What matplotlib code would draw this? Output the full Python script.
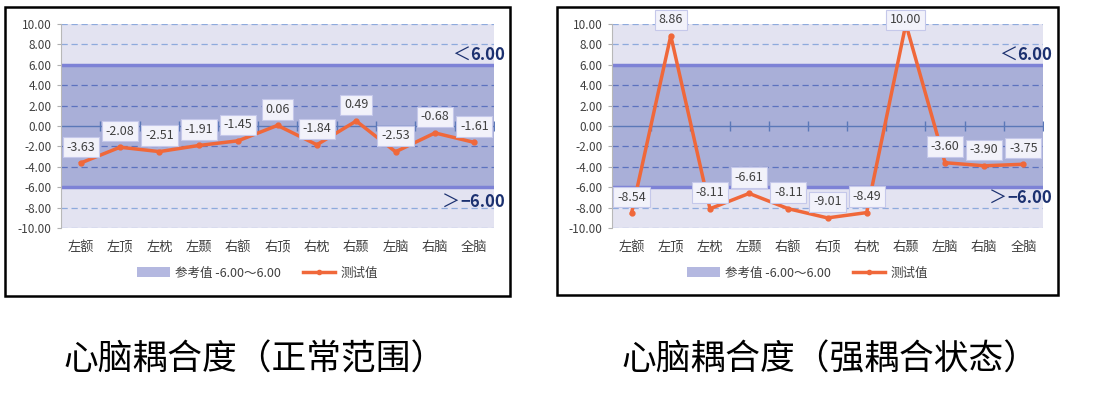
import matplotlib
matplotlib.use("Agg")
import matplotlib.pyplot as plt
from matplotlib.patches import Rectangle, Patch
from matplotlib.lines import Line2D

plt.rcParams['font.family'] = ['Noto Sans CJK SC', 'DejaVu Sans']

# data
regions = ['左额', '左顶', '左枕', '左颞', '右额', '右顶', '右枕', '右颞', '左脑', '右脑', '全脑']
normal_vals = [-3.63, -2.08, -2.51, -1.91, -1.45, 0.06, -1.84, 0.49, -2.53, -0.68, -1.61]
strong_vals = [-8.54, 8.86, -8.11, -6.61, -8.11, -9.01, -8.49, 10.00, -3.60, -3.90, -3.75]
ref_low, ref_high = -6.0, 6.0
y_ticks = [-10, -8, -6, -4, -2, 0, 2, 4, 6, 8, 10]
titles = ['心脑耦合度（正常范围）', '心脑耦合度（强耦合状态）']

LINE_C = '#f0683a'
LIGHT_BAND = '#e3e3f1'
DARK_BAND = '#a9afd8'
BAND_EDGE = '#7d82d6'
NAVY = '#1c3170'
TXT = '#404040'

W, H = 1106, 403
fig = plt.figure(figsize=(W / 100, H / 100), dpi=100)


def fx(px):
    return px / W


def fy(py):
    return 1 - py / H


def draw_panel(ax, vals, lab_x, lab_y_hi, lab_y_lo):
    n = len(regions)
    ax.set_xlim(-0.5, n - 0.5)
    ax.set_ylim(-10, 10)
    ax.axhspan(-10, 10, color=LIGHT_BAND, zorder=0, lw=0)
    ax.axhspan(ref_low, ref_high, color=DARK_BAND, zorder=0.5, lw=0)
    for y in y_ticks:
        if y in (ref_low, ref_high):
            ax.axhline(y, color=BAND_EDGE, lw=2.5, zorder=1)
        elif y == 0:
            ax.axhline(y, color='#5b78b8', lw=1.0, zorder=1)
        else:
            c = '#8eaadc' if abs(y) > 6 else '#5c72bf'
            ax.axhline(y, color=c, lw=0.9, ls=(0, (5, 3)), zorder=1)
    # tick marks on the zero line at category boundaries
    bounds = [i + 0.5 for i in range(n - 1)] + [n - 0.5]
    ax.plot(bounds, [0] * len(bounds), ls='none', marker='|', ms=7,
            mew=1.0, color='#5b78b8', zorder=1.5)

    xs = list(range(n))
    ax.plot(xs, vals, color=LINE_C, lw=2.5, marker='o', ms=3.5, zorder=3,
            clip_on=False)
    for x, v in zip(xs, vals):
        ty = min(v + 1.57, 10.4)
        ax.text(x, ty, f'{v:.2f}', ha='center', va='center', fontsize=9,
                color=TXT, zorder=4,
                bbox=dict(boxstyle='square,pad=0.3', fc='#f2f2fa',
                          ec='#c5c8ea', lw=0.8))

    ax.set_xticks(xs)
    ax.set_xticklabels(regions, fontsize=9.5, color=TXT)
    ax.tick_params(axis='x', length=0, pad=9)
    ax.set_yticks(y_ticks)
    ax.set_yticklabels([f'{y:.2f}' for y in y_ticks], fontsize=8.5, color=TXT)
    ax.tick_params(axis='y', length=3, color='#b0b0b0', pad=4)
    for s in ('top', 'right', 'bottom'):
        ax.spines[s].set_visible(False)
    ax.spines['left'].set_color('#b8b8b8')

    t1 = ax.text(lab_x, lab_y_hi, '6.00', transform=ax.transAxes, ha='right',
                 va='center', fontsize=12, fontweight='bold', color=NAVY)
    ax.annotate('＜', xy=(0, 0.45), xycoords=t1, ha='right', va='center',
                fontsize=13, color=NAVY)
    t2 = ax.text(lab_x, lab_y_lo, '−6.00', transform=ax.transAxes, ha='right',
                 va='center', fontsize=12, fontweight='bold', color=NAVY)
    ax.annotate('＞', xy=(0, 0.45), xycoords=t2, ha='right', va='center',
                fontsize=13, color=NAVY)


panels = [
    # plot area (px) and border (px)
    dict(vals=normal_vals, area=(61, 24, 494, 228), border=(5, 7, 510, 296),
         lab_x=(505 - 61) / 433, yhi=(228 - 55) / 204, ylo=(228 - 202) / 204,
         title=titles[0], tx=255),
    dict(vals=strong_vals, area=(612, 24, 1043, 228), border=(557, 7, 1058, 295),
         lab_x=(1052 - 612) / 431, yhi=(228 - 55) / 204, ylo=(228 - 198) / 204,
         title=titles[1], tx=830),
]

for p in panels:
    x0, y0, x1, y1 = p['area']
    ax = fig.add_axes([fx(x0), fy(y1), fx(x1 - x0), (y1 - y0) / H])
    draw_panel(ax, p['vals'], p['lab_x'], p['yhi'], p['ylo'])

    bx0, by0, bx1, by1 = p['border']
    fig.patches.append(Rectangle((fx(bx0), fy(by1)), fx(bx1 - bx0), (by1 - by0) / H,
                                 transform=fig.transFigure, fill=False,
                                 ec='black', lw=1.8))

    handles = [Patch(fc='#b4b8e0', ec='none'),
               Line2D([], [], color=LINE_C, lw=2.5, marker='o', ms=3)]
    fig.legend(handles, ['参考值 -6.00～6.00', '测试值'],
               loc='center', bbox_to_anchor=(fx((bx0 + bx1) / 2), fy(273)),
               ncol=2, frameon=False, fontsize=9, handlelength=2.6,
               handleheight=0.9, columnspacing=1.8, handletextpad=0.4,
               labelcolor=TXT)

    fig.text(fx(p['tx']), fy(360), p['title'], ha='center', va='center',
             fontsize=25, fontweight='light', color='black')

fig.savefig('out.png', dpi=100)
